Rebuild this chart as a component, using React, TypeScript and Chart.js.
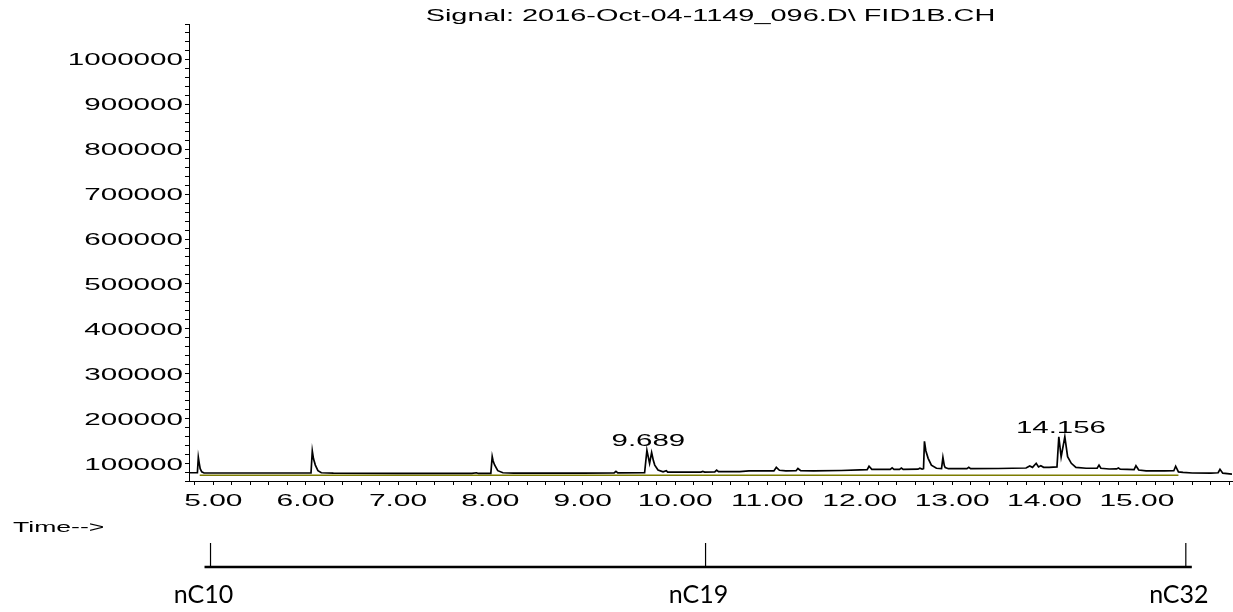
import React, { useEffect, useRef } from "react";
import { Chart, registerables } from "chart.js";

Chart.register(...registerables);

// Chromatogram signal (retention time in min, detector response)
const times = [
  4.737, 4.828, 4.838, 4.848, 4.858, 4.875, 4.9, 5.5, 6.0, 6.058,
  6.072, 6.085, 6.105, 6.133, 6.17, 6.3, 7.0, 7.8, 7.85, 7.87,
  8.005, 8.02, 8.03, 8.046, 8.08, 8.136, 8.25, 9.0, 9.34, 9.36,
  9.38, 9.67, 9.695, 9.724, 9.746, 9.765, 9.78, 9.815, 9.87, 9.905,
  9.92, 10.28, 10.3, 10.32, 10.43, 10.45, 10.47, 10.7, 10.8, 11.07,
  11.096, 11.13, 11.2, 11.31, 11.33, 11.36, 11.5, 11.8, 12.0, 12.08,
  12.1, 12.13, 12.33, 12.35, 12.37, 12.43, 12.45, 12.47, 12.63, 12.65,
  12.675, 12.69, 12.7, 12.715, 12.74, 12.775, 12.83, 12.885, 12.9, 12.915,
  12.925, 12.96, 13.16, 13.18, 13.2, 13.5, 13.8, 13.84, 13.87, 13.91,
  13.935, 13.96, 13.99, 14.05, 14.135, 14.155, 14.18, 14.22, 14.25, 14.29,
  14.34, 14.45, 14.57, 14.59, 14.61, 14.7, 14.78, 14.8, 14.82, 14.97,
  14.99, 15.02, 15.1, 15.3, 15.4, 15.42, 15.45, 15.5, 15.6, 15.8,
  15.88, 15.9, 15.93, 16.03,
];
const signal = [
  79000, 79000, 113300, 100000, 88000, 81000, 78500, 78500, 78500, 78500,
  127300, 110000, 96000, 83600, 79000, 78000, 77500, 77500, 79000, 77500,
  77800, 114700, 105000, 96200, 83600, 79000, 78000, 78000, 78500, 82000,
  78700, 79000, 129000, 100000, 124000, 106000, 96000, 85000, 81000, 83500,
  80500, 80500, 82000, 80500, 81000, 85000, 81500, 81500, 83000, 83000,
  91000, 84500, 83000, 83500, 88500, 83500, 83000, 84000, 85500, 86000,
  93500, 86500, 86500, 90000, 86500, 86500, 89500, 86500, 87000, 89000,
  87000, 88000, 149000, 128000, 111000, 96000, 89000, 88000, 113300, 95000,
  90300, 88000, 88000, 91000, 88000, 88500, 89500, 94000, 91000, 100000,
  92000, 94700, 91000, 91000, 92000, 159000, 114000, 159000, 114700, 100000,
  91000, 89000, 89000, 96000, 89000, 87300, 87500, 89500, 87000, 86000,
  94700, 85000, 83000, 83000, 83500, 93500, 81000, 80000, 78500, 78000,
  79000, 86700, 78000, 76000,
];

// Integration baseline
const baselineTimes = [4.853, 15.45];
const baselineValues = [73500, 73500];

// Axis labels
const yLabelValues = [100000, 200000, 300000, 400000, 500000, 600000, 700000, 800000, 900000, 1000000];
const xLabelValues = [5, 6, 7, 8, 9, 10, 11, 12, 13, 14, 15];
const xLabelTexts = ["5.00", "6.00", "7.00", "8.00", "9.00", "10.00", "11.00", "12.00", "13.00", "14.00", "15.00"];

// Peak annotations
const peakLabelTimes = [9.689, 14.156];
const peakLabelValues = [129000, 159000];
const peakLabelTexts = ["9.689", "14.156"];

// n-alkane markers
const markerTimes = [4.97, 10.33, 15.53];
const markerLabels = ["nC10", "nC19", "nC32"];

const titleText = "Signal: 2016-Oct-04-1149_096.D\\ FID1B.CH";
const timeLabel = "Time-->";

function stretchText(ctx: CanvasRenderingContext2D, text: string, x: number, y: number, sx: number, align: CanvasTextAlign) {
  ctx.save();
  ctx.translate(x, y);
  ctx.scale(sx, 1);
  ctx.textAlign = align;
  ctx.textBaseline = "alphabetic";
  ctx.fillText(text, 0, 0);
  ctx.restore();
}

const overlayPlugin = {
  id: "overlay",
  afterDraw(chart: any) {
    const ctx: CanvasRenderingContext2D = chart.ctx;
    const area = chart.chartArea;
    const xs = chart.scales.x;
    const ys = chart.scales.y;
    ctx.save();
    ctx.fillStyle = "#000";
    ctx.strokeStyle = "#000";

    const sans = '"Liberation Sans", Arial, sans-serif';
    // title
    ctx.font = "17px " + sans;
    stretchText(ctx, titleText, (area.left + area.right) / 2, 20.5, 1.7, "center");

    // y labels
    ctx.font = "16px " + sans;
    yLabelValues.forEach((v) => {
      stretchText(ctx, String(v), area.left - 6, ys.getPixelForValue(v) + 6.3, 1.85, "right");
    });

    // x labels
    xLabelValues.forEach((v, i) => {
      stretchText(ctx, xLabelTexts[i], xs.getPixelForValue(v), area.bottom + 25, 1.87, "center");
    });

    // peak labels
    peakLabelTimes.forEach((t, i) => {
      stretchText(ctx, peakLabelTexts[i], xs.getPixelForValue(t) + 2, ys.getPixelForValue(peakLabelValues[i]) - 4, 1.84, "center");
    });

    // Time-->
    ctx.font = "14px " + sans;
    stretchText(ctx, timeLabel, 13, area.bottom + 51, 1.9, "left");

    // n-alkane scale
    const mx = markerTimes.map((t) => xs.getPixelForValue(t));
    const lineY = area.bottom + 86;
    ctx.lineWidth = 2.6;
    ctx.beginPath();
    ctx.moveTo(mx[0] - 6, lineY);
    ctx.lineTo(mx[mx.length - 1] + 6, lineY);
    ctx.stroke();
    ctx.lineWidth = 1.2;
    mx.forEach((x) => {
      ctx.beginPath();
      ctx.moveTo(x, area.bottom + 62);
      ctx.lineTo(x, lineY);
      ctx.stroke();
    });
    ctx.font = '25px Lato, "Open Sans", sans-serif';
    ctx.textAlign = "center";
    ctx.textBaseline = "alphabetic";
    mx.forEach((x, i) => {
      ctx.fillText(markerLabels[i], x - 7, area.bottom + 122);
    });
    ctx.restore();
  },
};

export default function App() {
  const ref = useRef<HTMLCanvasElement | null>(null);
  useEffect(() => {
    document.body.style.margin = "0";
    const canvas = ref.current;
    if (!canvas) return;
    const chart = new Chart(canvas, {
      type: "line",
      data: {
        datasets: [
          {
            label: "FID1B",
            data: times.map((t, i) => ({ x: t, y: signal[i] })),
            borderColor: "#000",
            borderWidth: 1.7,
            pointRadius: 0,
            tension: 0,
            fill: false,
          },
          {
            label: "baseline",
            data: baselineTimes.map((t, i) => ({ x: t, y: baselineValues[i] })),
            borderColor: "#7c7c00",
            borderWidth: 1.5,
            pointRadius: 0,
            tension: 0,
            fill: false,
          },
        ],
      },
      options: {
        animation: false,
        responsive: false,
        devicePixelRatio: 1,
        layout: { padding: { top: 24, left: 0, right: 1, bottom: 101 } },
        plugins: {
          legend: { display: false },
          title: { display: false },
          tooltip: { enabled: false },
        },
        events: [],
        scales: {
          x: {
            type: "linear",
            min: 4.737,
            max: 16.03,
            ticks: { display: false, stepSize: 0.2, includeBounds: false },
            grid: { display: true, drawOnChartArea: false, drawTicks: true, tickLength: 4, color: "#000", lineWidth: 1 },
            border: { display: true, color: "#000", width: 1 },
            afterFit: (s: any) => {
              s.height = 30;
            },
          },
          y: {
            type: "linear",
            min: 60667,
            max: 1076222,
            ticks: { display: false, stepSize: 20000, includeBounds: false },
            grid: { display: true, drawOnChartArea: false, drawTicks: true, tickLength: 4, color: "#000", lineWidth: 1 },
            border: { display: true, color: "#000", width: 1 },
            afterFit: (s: any) => {
              s.width = 189;
            },
          },
        },
      },
      plugins: [overlayPlugin],
    } as any);
    return () => chart.destroy();
  }, []);
  return <canvas ref={ref} width={1233} height={612} style={{ display: "block", width: 1233, height: 612 }} />;
}
